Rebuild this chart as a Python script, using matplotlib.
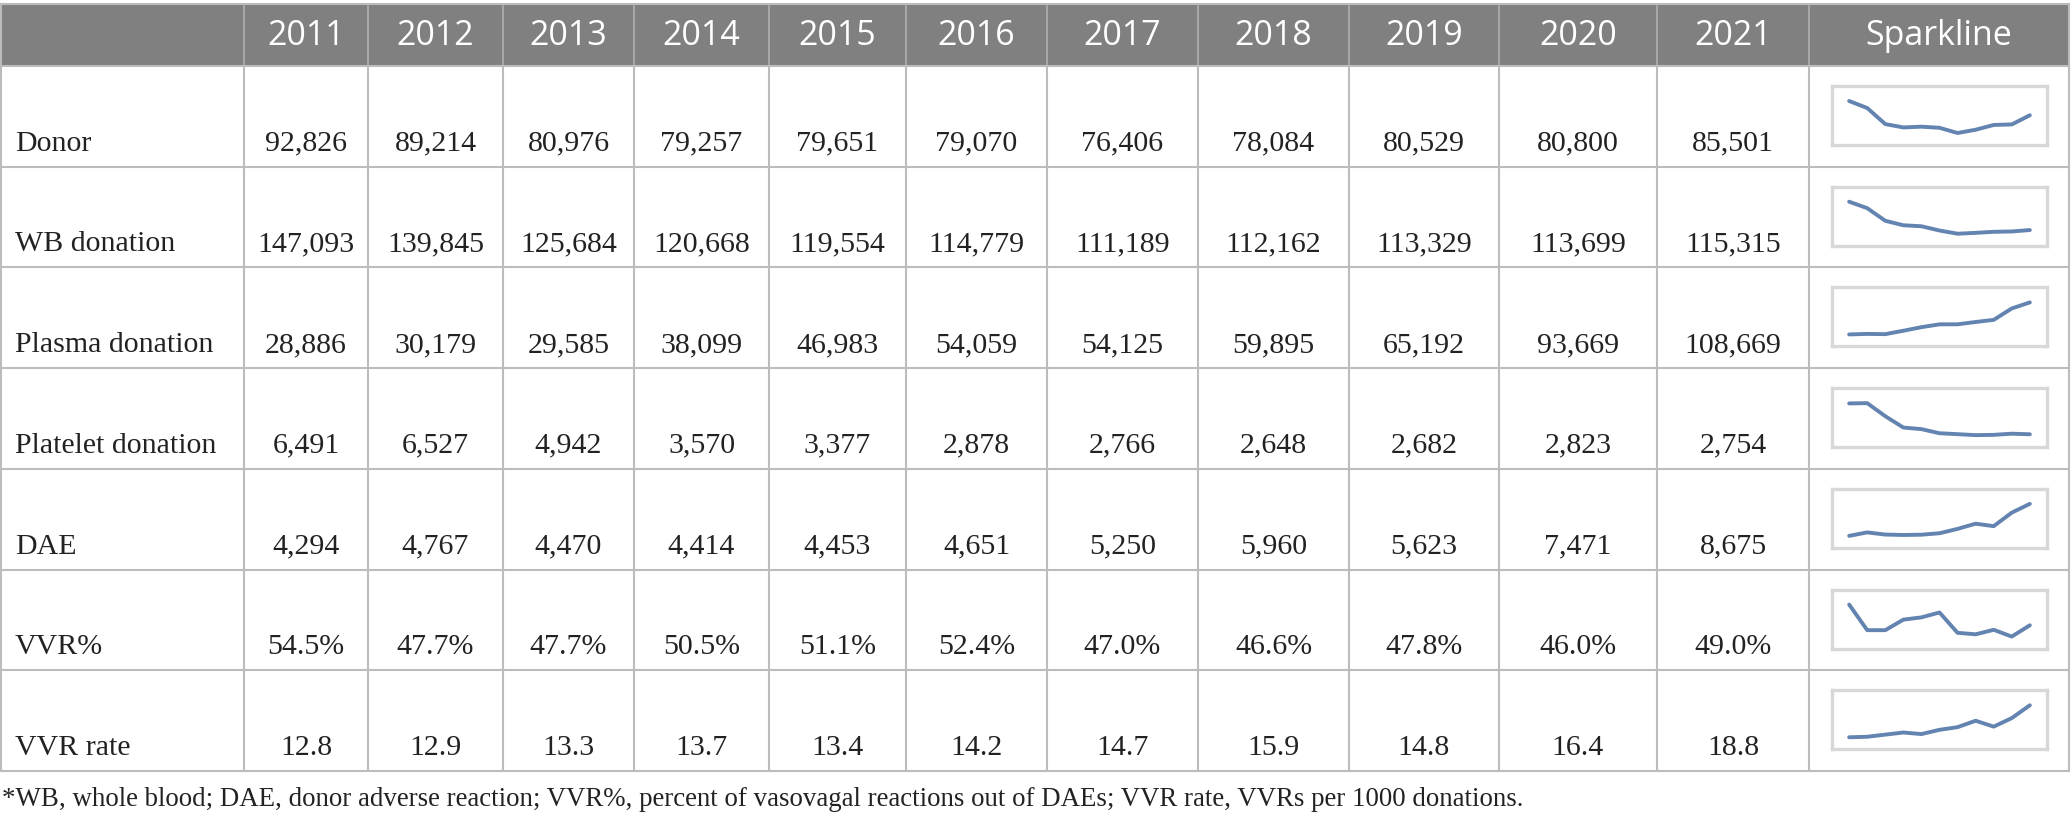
import matplotlib
matplotlib.use("Agg")
import matplotlib.pyplot as plt
import numpy as np

# table contents
years = ["2011", "2012", "2013", "2014", "2015", "2016",
         "2017", "2018", "2019", "2020", "2021"]
row_labels = ["Donor", "WB donation", "Plasma donation", "Platelet donation",
              "DAE", "VVR%", "VVR rate"]

donor = [92826, 89214, 80976, 79257, 79651, 79070, 76406, 78084, 80529, 80800, 85501]
wb_donation = [147093, 139845, 125684, 120668, 119554, 114779, 111189, 112162,
               113329, 113699, 115315]
plasma_donation = [28886, 30179, 29585, 38099, 46983, 54059, 54125, 59895,
                   65192, 93669, 108669]
platelet_donation = [6491, 6527, 4942, 3570, 3377, 2878, 2766, 2648, 2682, 2823, 2754]
dae = [4294, 4767, 4470, 4414, 4453, 4651, 5250, 5960, 5623, 7471, 8675]
vvr_pct = [54.5, 47.7, 47.7, 50.5, 51.1, 52.4, 47.0, 46.6, 47.8, 46.0, 49.0]
vvr_rate = [12.8, 12.9, 13.3, 13.7, 13.4, 14.2, 14.7, 15.9, 14.8, 16.4, 18.8]

series = [donor, wb_donation, plasma_donation, platelet_donation, dae, vvr_pct, vvr_rate]
formats = ["{:,}", "{:,}", "{:,}", "{:,}", "{:,}", "{:.1f}%", "{:.1f}"]

footnote = ("*WB, whole blood; DAE, donor adverse reaction; VVR%, percent of vasovagal "
            "reactions out of DAEs; VVR rate, VVRs per 1000 donations.")

# layout in pixels
W, H = 2071, 826
col_edges = [1, 244, 368, 503, 634, 769, 906, 1047, 1198, 1349, 1499, 1657, 1809, 2069]
head_top, head_bot = 4, 66
row_edges = np.linspace(66, 771, 8)

header_bg = "#7f807f"
grid_col = "#bcbcbc"
spark_col = "#6384b0"
box_col = "#d8d8d8"
ink = "#222222"

fig = plt.figure(figsize=(W / 100, H / 100), dpi=100)
ax = fig.add_axes([0, 0, 1, 1])
ax.set_xlim(0, W)
ax.set_ylim(H, 0)
ax.axis("off")

# header band
ax.fill_between([col_edges[0], col_edges[-1]], head_top, head_bot, color=header_bg, lw=0)
for x in col_edges[1:-1]:
    ax.plot([x, x], [head_top, head_bot], color="#a9a9a9", lw=1.4)

head_texts = [""] + years + ["Sparkline"]
for i, t in enumerate(head_texts):
    cx = (col_edges[i] + col_edges[i + 1]) / 2
    ax.text(cx, (head_top + head_bot) / 2 + 1, t, color="white", fontsize=24.5,
            family="Open Sans", ha="center", va="center")

# grid
for y in row_edges:
    ax.plot([col_edges[0], col_edges[-1]], [y, y], color=grid_col, lw=1.5)
for x in col_edges:
    ax.plot([x, x], [head_bot, row_edges[-1]], color=grid_col, lw=1.5)
ax.plot([col_edges[0], col_edges[-1]], [head_top, head_top], color=grid_col, lw=1.5)
ax.plot([col_edges[0], col_edges[0]], [head_top, head_bot], color=grid_col, lw=1.5)
ax.plot([col_edges[-1], col_edges[-1]], [head_top, head_bot], color=grid_col, lw=1.5)

# body text
for r, (label, vals, fmt) in enumerate(zip(row_labels, series, formats)):
    ty = row_edges[r + 1] - 23
    ax.text(15, ty, label, fontsize=21.5, family="Liberation Serif",
            ha="left", va="center", color=ink)
    for c, v in enumerate(vals):
        cx = (col_edges[c + 1] + col_edges[c + 2]) / 2
        ax.text(cx, ty, fmt.format(v), fontsize=21.5, family="Liberation Serif",
                ha="center", va="center", color=ink)

    # sparkline in the last column
    bx0, bx1 = 1832, 2047
    by0 = row_edges[r] + 20
    by1 = by0 + 59
    sax = fig.add_axes([bx0 / W, 1 - by1 / H, (bx1 - bx0) / W, (by1 - by0) / H])
    sax.plot(range(len(vals)), vals, color=spark_col, lw=2.8, solid_joinstyle="round",
             solid_capstyle="round")
    lo, hi = min(vals), max(vals)
    span = hi - lo
    # leave room above and below the line like the original cells
    sax.set_ylim(lo - span * 12 / 32, hi + span * 15 / 32)
    sax.set_xlim(-0.95, len(vals) - 1 + 0.95)
    sax.set_xticks([])
    sax.set_yticks([])
    for s in sax.spines.values():
        s.set_color(box_col)
        s.set_linewidth(2.4)

ax.text(2, 800, footnote, fontsize=19.4, family="Liberation Serif",
        ha="left", va="center", color=ink)

fig.savefig("out.png", dpi=100)
